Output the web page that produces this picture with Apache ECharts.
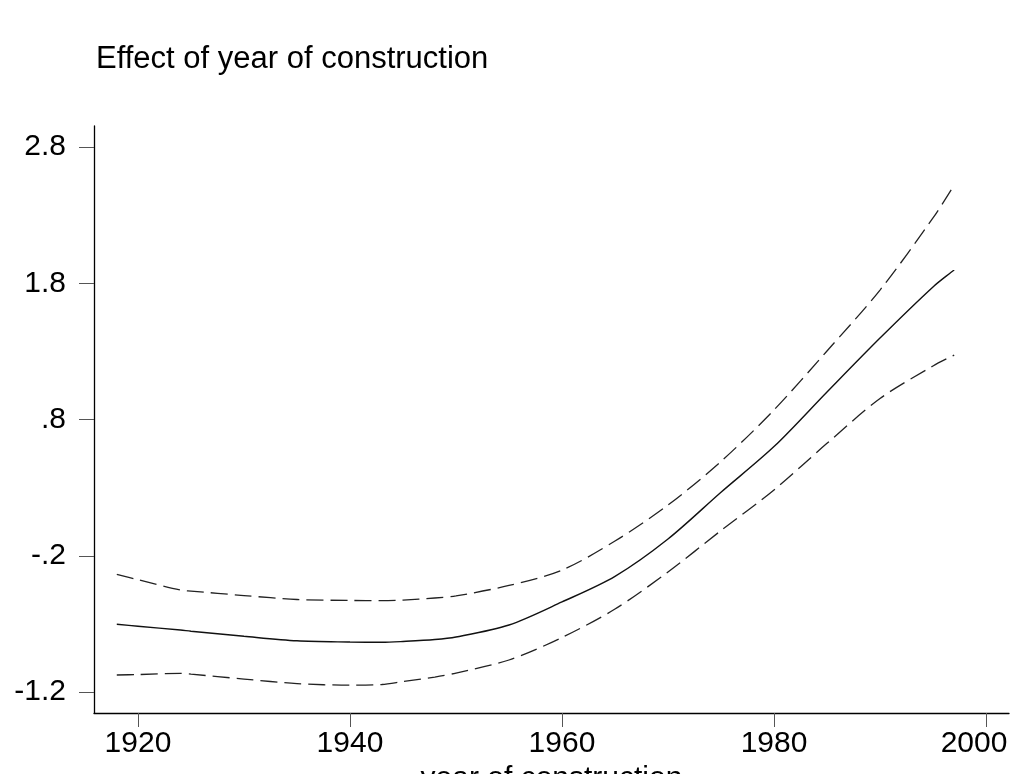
<!DOCTYPE html>
<html>
<head>
<meta charset="utf-8">
<title>Effect of year of construction</title>
<script src="https://cdn.jsdelivr.net/npm/echarts@6/dist/echarts.min.js"></script>
<style>
  html, body { margin: 0; padding: 0; background: #fff; overflow: hidden; }
  #chart { width: 1011px; height: 774px; }
</style>
</head>
<body>
<div id="chart"></div>
<script>
// Evaluation years of the smooth effect
const years = [1918, 1920, 1924, 1925, 1930, 1935, 1940, 1943, 1945, 1948, 1950, 1955,
               1960, 1965, 1970, 1975, 1980, 1985, 1990, 1995, 1997];

// Estimated effect and pointwise confidence band
const effect = [-0.703, -0.717, -0.745, -0.754, -0.791, -0.824, -0.833, -0.835, -0.829, -0.815,
                -0.796, -0.708, -0.539, -0.351, -0.077, 0.266, 0.601, 1.002, 1.398, 1.773, 1.897];
const upper  = [-0.336, -0.376, -0.452, -0.459, -0.492, -0.521, -0.528, -0.530, -0.525, -0.510,
                -0.495, -0.418, -0.305, -0.092, 0.172, 0.492, 0.870, 1.303, 1.750, 2.279, 2.521];
const lower  = [-1.075, -1.072, -1.063, -1.069, -1.105, -1.138, -1.150, -1.145, -1.123, -1.090,
                -1.061, -0.965, -0.800, -0.591, -0.319, -0.015, 0.283, 0.625, 0.954, 1.193, 1.273];

// Axis ticks
const xTicks = [1920, 1940, 1960, 1980, 2000];
const yTicks = [-1.2, -0.2, 0.8, 1.8, 2.8];

function stataNum(v) {
  // Stata style: drop the leading zero, e.g. .8 and -.2
  let s = String(Math.round(v * 10) / 10);
  return s.replace(/^0\./, '.').replace(/^-0\./, '-.');
}

const pair = (arr) => years.map((y, i) => [y, arr[i]]);

const font = 'Liberation Sans, Arial, sans-serif';
const lastX = xTicks[xTicks.length - 1];
const chart = echarts.init(document.getElementById('chart'), null,
  { renderer: 'canvas', width: 1011, height: 774 });

chart.setOption({
  animation: false,
  backgroundColor: '#fff',
  title: {
    text: 'Effect of year of construction',
    left: 96,
    top: 44,
    padding: 0,
    textStyle: { fontFamily: font, fontSize: 31, fontWeight: 'normal', color: '#000' }
  },
  grid: {
    left: 94, top: 126, right: 2, bottom: 61,
    containLabel: false,
    outerBoundsMode: 'none'
  },
  xAxis: {
    type: 'value',
    min: 1915.85,
    max: 2002.17,
    name: 'year of construction',
    nameLocation: 'middle',
    nameGap: 42,
    nameTextStyle: { fontFamily: font, fontSize: 30, color: '#000' },
    axisLine: { show: true, onZero: false, lineStyle: { color: '#000', width: 1.3 } },
    axisTick: { show: true, customValues: xTicks, length: 14, lineStyle: { color: '#555', width: 1 } },
    axisLabel: {
      customValues: xTicks, margin: 16, fontFamily: font, fontSize: 30, color: '#000',
      // the last label is nudged left so it stays inside the canvas
      formatter: (v) => (v === lastX ? '{edge|' + v + '}' : String(v)),
      rich: {
        edge: { fontFamily: font, fontSize: 30, color: '#000', padding: [0, 24, 0, 0] }
      }
    },
    splitLine: { show: false }
  },
  yAxis: {
    type: 'value',
    min: -1.354,
    max: 2.954,
    axisLine: { show: true, onZero: false, lineStyle: { color: '#000', width: 1.3 } },
    axisTick: { show: true, customValues: yTicks, length: 15, lineStyle: { color: '#555', width: 1 } },
    axisLabel: {
      customValues: yTicks, margin: 28, fontFamily: font, fontSize: 30, color: '#000',
      formatter: stataNum
    },
    splitLine: { show: false }
  },
  series: [
    {
      type: 'line', data: pair(upper), showSymbol: false, smooth: 0.3,
      lineStyle: { color: '#222', width: 1.3, type: [17, 7] }
    },
    {
      type: 'line', data: pair(effect), showSymbol: false, smooth: 0.3,
      lineStyle: { color: '#111', width: 1.4, type: 'solid' }
    },
    {
      type: 'line', data: pair(lower), showSymbol: false, smooth: 0.3,
      lineStyle: { color: '#222', width: 1.3, type: [17, 7] }
    }
  ]
});
</script>
</body>
</html>
